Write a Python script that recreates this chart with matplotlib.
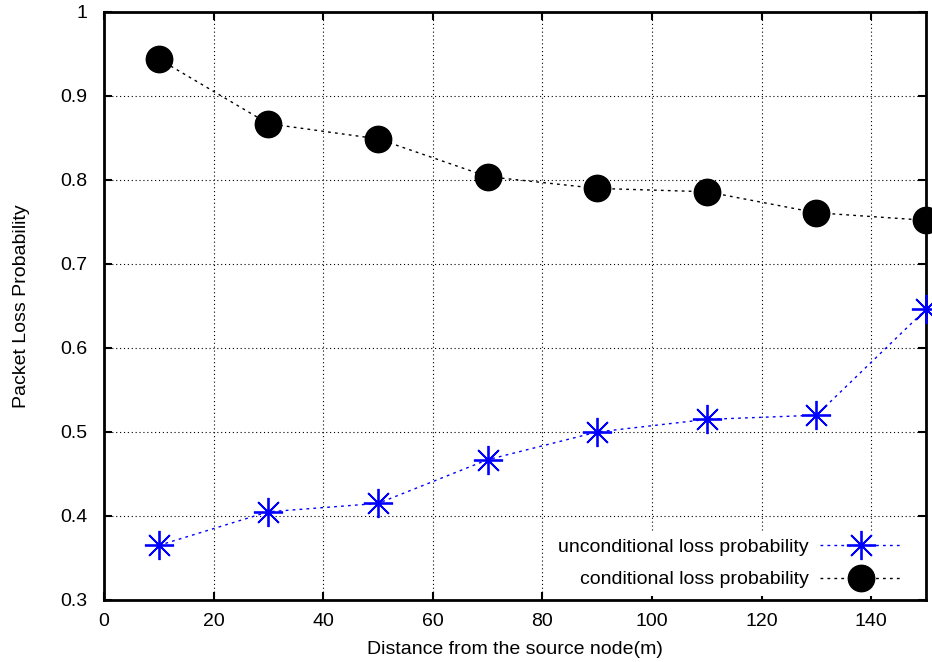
import matplotlib
matplotlib.use('Agg')
from matplotlib import pyplot as plt

plt.rcParams['font.family'] = ['Liberation Sans', 'DejaVu Sans']

# Data.
distance = [10, 30, 50, 70, 90, 110, 130, 150]
unconditional = [0.365, 0.405, 0.415, 0.467, 0.500, 0.515, 0.520, 0.646]
conditional = [0.944, 0.867, 0.849, 0.804, 0.790, 0.786, 0.761, 0.752]

x_ticks = [0, 20, 40, 60, 80, 100, 120, 140]
y_ticks = [0.3, 0.4, 0.5, 0.6, 0.7, 0.8, 0.9, 1.0]
y_labels = ['0.3', '0.4', '0.5', '0.6', '0.7', '0.8', '0.9', '1']

fig = plt.figure(dpi=100, figsize=(9.32, 6.62))
ax = fig.add_axes([104 / 932, 62 / 662, 822 / 932, 588 / 662])

ax.plot(distance, unconditional, color='#0000ff', linestyle=(0, (2, 3)),
        linewidth=1, marker=(8, 2, 0), markersize=21, markeredgewidth=1.3,
        label='unconditional loss probability', clip_on=False, zorder=3)
ax.plot(distance, conditional, color='black', linestyle=(0, (2, 3)),
        linewidth=1, marker='o', markersize=19,
        label='conditional loss probability', clip_on=False, zorder=3)

ax.set_xlim(0, 150)
ax.set_ylim(0.3, 1.0)
ax.set_xticks(x_ticks)
ax.set_yticks(y_ticks)
ax.set_yticklabels(y_labels)
ax.grid(True, linestyle=(0, (1, 2.5)), color='black', linewidth=0.8)
ax.set_axisbelow(True)

ax.tick_params(axis='both', which='major', direction='in', length=6, width=1.5,
               labelsize=14, top=True, right=True)
ax.tick_params(axis='x', pad=9)
ax.tick_params(axis='y', pad=12)
for s in ax.spines.values():
    s.set_linewidth(2)

ax.set_xlabel('Distance from the source node(m)', fontsize=14, labelpad=8)
ax.set_ylabel('Packet Loss Probability', fontsize=14, labelpad=22)

leg = ax.legend(loc='lower right', markerfirst=False, fontsize=14,
                frameon=True, fancybox=False, edgecolor='none',
                framealpha=1, handlelength=4.2, borderaxespad=0.2,
                labelspacing=0.75, handletextpad=0.6,
                bbox_to_anchor=(0.985, 0.0))

plt.savefig('out.png')
